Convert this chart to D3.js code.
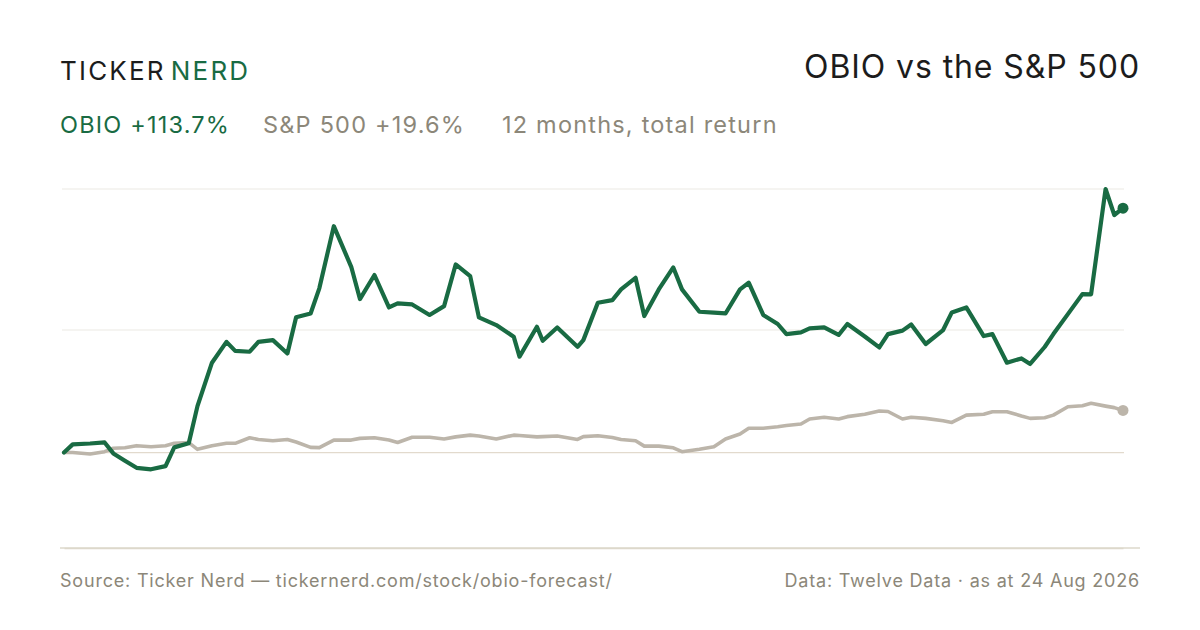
<!DOCTYPE html>
<html>
<head>
<meta charset="utf-8">
<script src="https://cdn.jsdelivr.net/npm/d3@7"></script>
<style>
  html, body { margin: 0; padding: 0; background: #ffffff; }
  svg { display: block; }
  text { font-family: Inter, "Noto Sans", sans-serif; }
</style>
</head>
<body>
<svg id="chart" width="1200" height="630"></svg>
<script>
// ---- data ----
const startDate = "2025-08-24";
const dayOffsets = [0,3,9,14,17,21,25,30,35,38,43,46,51,56,59,64,67,72,77,80,85,88,93,99,102,107,112,115,120,126,131,135,140,143,149,155,157,163,165,170,177,179,184,189,192,197,200,205,210,213,219,224,228,233,236,241,246,249,254,257,262,267,270,276,281,284,289,292,297,303,306,311,317,320,325,330,333,338,341,346,351,354,359,362,365];
const obioReturn = [0,3.8,4.2,4.7,-0.4,-3.8,-7.1,-7.8,-6.3,2.4,4.3,21.6,41.8,51.5,47.3,46.9,51.5,52.3,46.1,62.9,64.7,76.4,105.3,86.4,71.4,82.6,67.5,69.4,68.9,64.0,68.1,87.5,82.1,62.9,59.3,53.9,44.6,58.5,52.0,58.2,49.2,52.3,69.7,70.9,75.9,81.3,63.5,75.9,86.1,75.9,65.5,65.1,64.7,75.9,79.0,64.0,59.8,55.1,55.9,57.8,58.2,54.7,59.8,54.0,48.9,55.1,56.7,59.6,50.5,57.0,65.2,67.5,54.2,55.1,41.8,43.8,41.2,49.1,55.1,64.4,73.7,73.6,122.6,110.5,113.7];
const spxReturn = [0,0,-0.7,0.4,2.0,2.2,3.2,2.7,3.2,4.3,4.6,1.5,3.2,4.3,4.3,6.9,6.1,5.5,6.1,4.9,2.4,2.3,5.8,5.8,6.6,6.9,5.8,4.7,7.1,7.1,6.3,7.3,8.1,7.7,6.3,8.1,7.9,7.3,7.4,7.7,6.1,7.4,7.8,7.0,6.1,5.5,3.0,3.0,2.2,0.4,1.5,2.7,6.3,8.6,11.3,11.3,12.0,12.6,13.3,15.6,16.4,15.6,16.7,17.8,19.3,19.1,15.6,16.4,15.9,14.8,14.0,17.4,17.8,19.0,19.0,17.0,15.9,16.2,17.4,21.3,21.8,22.9,21.6,20.9,19.6];
const yDomain = [-44.4, 122.6];
const gridValues = [57.0, 122.6];
const baselineValue = 0;
const brandWords = ["TICKER", "NERD"];
const titleText = "OBIO vs the S&P 500";
const legendItems = ["OBIO +113.7%", "S&P 500 +19.6%", "12 months, total return"];
const footerLeft = "Source: Ticker Nerd \u2014 tickernerd.com/stock/obio-forecast/";
const footerRight = "Data: Twelve Data \u00b7 as at 24 Aug 2026";

// ---- styling ----
const GREEN = "#196b43";
const GREY_LINE = "#bcb5aa";
const GREY_TEXT = "#8c8779";
const DARK = "#1c1c1c";

const svg = d3.select("#chart");
const parse = d3.timeParse("%Y-%m-%d");
const t0 = parse(startDate);
const dates = dayOffsets.map(d => d3.timeDay.offset(t0, d));

const x = d3.scaleTime().domain(d3.extent(dates)).range([64, 1123]);
const y = d3.scaleLinear().domain(yDomain).range([548, 189]);

// header
const brand = svg.append("text").attr("x", 60).attr("y", 80)
  .style("font-size", "26px").style("letter-spacing", "2.2px");
brand.append("tspan").attr("fill", DARK).text(brandWords[0]);
brand.append("tspan").attr("fill", GREEN).attr("dx", 5).text(brandWords[1]);

svg.append("text").attr("x", 1140).attr("y", 78).attr("text-anchor", "end")
  .attr("fill", DARK).style("font-size", "32px").style("letter-spacing", "0.9px").text(titleText);

const legendX = [60, 263, 502];
const legendColors = [GREEN, GREY_TEXT, GREY_TEXT];
legendItems.forEach((t, i) => {
  svg.append("text").attr("x", legendX[i]).attr("y", 133)
    .attr("fill", legendColors[i]).style("font-size", "23.5px").style("letter-spacing", "1.2px").text(t);
});

// grid
svg.append("g").selectAll("line").data(gridValues).join("line")
  .attr("x1", 62).attr("x2", 1124)
  .attr("y1", d => y(d)).attr("y2", d => y(d))
  .attr("stroke", "#ece9e3").attr("stroke-width", 1.2);
svg.append("line").attr("x1", 62).attr("x2", 1124)
  .attr("y1", y(baselineValue)).attr("y2", y(baselineValue))
  .attr("stroke", "#e2dacd").attr("stroke-width", 1.2);

// bottom rule via axis
const xAxis = d3.axisBottom(x).tickValues([]).tickSizeOuter(0);
const axisG = svg.append("g").attr("transform", "translate(0,548)").call(xAxis);
axisG.select(".domain").attr("stroke", "#ddd8cb").attr("stroke-width", 1.6);
svg.append("line").attr("x1", 60).attr("x2", 1140).attr("y1", 548).attr("y2", 548)
  .attr("stroke", "#ddd8cb").attr("stroke-width", 1.6);

// lines
const line = d3.line().x((d, i) => x(dates[i])).y(d => y(d)).curve(d3.curveLinear);
svg.append("path").datum(spxReturn).attr("d", line)
  .attr("fill", "none").attr("stroke", GREY_LINE).attr("stroke-width", 3.6)
  .attr("stroke-linejoin", "round").attr("stroke-linecap", "round");
svg.append("path").datum(obioReturn).attr("d", line)
  .attr("fill", "none").attr("stroke", GREEN).attr("stroke-width", 4.2)
  .attr("stroke-linejoin", "round").attr("stroke-linecap", "round");

const last = dates.length - 1;
svg.append("circle").attr("cx", x(dates[last])).attr("cy", y(spxReturn[last])).attr("r", 5.5).attr("fill", GREY_LINE);
svg.append("circle").attr("cx", x(dates[last])).attr("cy", y(obioReturn[last])).attr("r", 5.5).attr("fill", GREEN);

// footer
svg.append("text").attr("x", 60).attr("y", 587).attr("fill", GREY_TEXT)
  .style("font-size", "18px").style("letter-spacing", "0.8px").text(footerLeft);
svg.append("text").attr("x", 1140).attr("y", 587).attr("text-anchor", "end").attr("fill", GREY_TEXT)
  .style("font-size", "18px").style("letter-spacing", "0.8px").text(footerRight);
</script>
</body>
</html>
